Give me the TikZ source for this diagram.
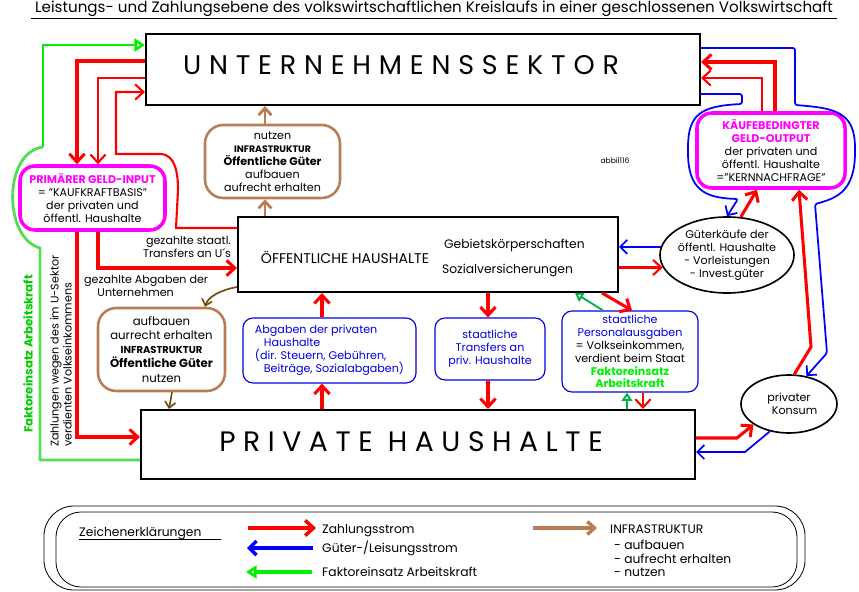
\documentclass[tikz,border=0pt]{standalone}
\usepackage{fontspec}
\setmainfont{Poppins}
\usetikzlibrary{arrows.meta,positioning,calc,shapes.geometric}
\definecolor{zahlrot}{RGB}{255,0,0}
\definecolor{gutblau}{RGB}{0,0,255}
\definecolor{boxblau}{RGB}{0,0,225}
\definecolor{faktgruen}{RGB}{0,240,0}
\definecolor{hellgruen}{RGB}{85,220,85}
\definecolor{dunkelgruen}{RGB}{0,175,80}
\definecolor{geldpink}{RGB}{255,0,255}
\definecolor{infbraun}{RGB}{185,125,85}
\definecolor{dunkelbraun}{RGB}{110,75,15}

\begin{document}
\begin{tikzpicture}[
  x=0.03cm,y=-0.03cm,
  font=\fontsize{9.5}{11}\selectfont,
  sektor/.style={draw=black,line width=1.7pt,inner sep=0pt},
  infbox/.style={draw=infbraun,line width=2.2pt,rounded corners=0.55cm,align=center,inner sep=0pt},
  geldbox/.style={draw=geldpink,line width=3pt,rounded corners=0.45cm,align=center,inner sep=0pt},
  stromb/.style={draw=boxblau,line width=1pt,rounded corners=0.3cm,align=center,inner sep=0pt},
  oval/.style={draw=black,line width=1.4pt,ellipse,inner sep=0pt},
  zst/.style={draw=zahlrot,line width=2.6pt,-{Straight Barb[length=7pt,width=13pt]}},
  zdn/.style={draw=zahlrot,line width=1.8pt,-{Straight Barb[length=7pt,width=13pt]}},
  gst/.style={draw=gutblau,line width=1.5pt,-{Straight Barb[length=6pt,width=12pt]}},
  fkt/.style={draw=faktgruen,line width=2.2pt,-{Triangle[open,length=9pt,width=11pt]}},
  fktd/.style={draw=dunkelgruen,line width=1.6pt,-{Triangle[open,length=7pt,width=9pt]}},
  inf/.style={draw=infbraun,line width=2.4pt,-{Straight Barb[length=6pt,width=11pt]}},
  infd/.style={draw=dunkelbraun,line width=1.4pt,-{Straight Barb[length=5pt,width=9pt]}},
  gross/.style={font=\fontsize{23}{26}\selectfont\addfontfeatures{LetterSpace=29}},
  legtxt/.style={anchor=base west,inner sep=0pt,font=\fontsize{10.5}{13}\selectfont}
]
\useasboundingbox (0,0) rectangle (859,592);

\node (titel) at (434,9) {\fontsize{12.9}{15}\selectfont Leistungs- und Zahlungsebene des volkswirtschaftlichen Kreislaufs in einer geschlossenen Volkswirtschaft};
\draw[line width=0.8pt] (31,18) -- (837,18);

\node[sektor,minimum width=16.62cm,minimum height=2.13cm] (usek) at (423,69.5) {};
\node[gross] (usektxt) at (401,65) {UNTERNEHMENSSEKTOR};

\node[sektor,minimum width=11.4cm,minimum height=2.25cm] (oeh) at (428,254.5) {};
\node[font=\fontsize{12}{14}\selectfont] (oehtxt) at (345,257) {ÖFFENTLICHE HAUSHALTE};
\node[anchor=west,font=\fontsize{10.5}{12}\selectfont] (gebk) at (440,245) {Gebietskörperschaften};
\node[anchor=west,font=\fontsize{10.5}{12}\selectfont] (sozv) at (438,270) {Sozialversicherungen};

\node[sektor,minimum width=16.62cm,minimum height=2.07cm] (phh) at (418,444.5) {};
\node[gross,font=\fontsize{24}{26}\selectfont\addfontfeatures{LetterSpace=27}] (phhtxt) at (411,442) {PRIVATE HAUSHALTE};

\node[infbox,minimum width=4.05cm,minimum height=2.19cm] (infoben) at (272.5,161.5) {nutzen\\{\fontsize{8}{11}\selectfont\bfseries INFRASTRUKTUR}\\\textbf{Öffentliche Güter}\\aufbauen\\aufrecht erhalten};
\node[infbox,minimum width=3.81cm,minimum height=2.49cm,font=\fontsize{10}{12}\selectfont] (infunten) at (161.5,349.5) {aufbauen\\aurrecht erhalten\\{\fontsize{8.5}{12}\selectfont\bfseries INFRASTRUKTUR}\\\textbf{Öffentliche Güter}\\nutzen};

\node[geldbox,minimum width=4.35cm,minimum height=1.92cm] (gin) at (92.5,198) {\textcolor{geldpink}{\textbf{PRIMÄRER GELD-INPUT}}\\= "KAUFKRAFTBASIS"\\der privaten und\\öffentl. Haushalte};
\node[geldbox,minimum width=4.44cm,minimum height=2.25cm] (gout) at (771,150.5) {\textcolor{geldpink}{\textbf{KÄUFEBEDINGTER}}\\\textcolor{geldpink}{\textbf{GELD-OUTPUT}}\\der privaten und\\öffentl. Haushalte\\="KERNNACHFRAGE"};

\node[stromb,minimum width=5.19cm,minimum height=1.95cm,align=left,text=boxblau] (abg) at (329.5,350.5) {Abgaben der privaten\\\hspace*{0.8em}Haushalte\\(dir. Steuern, Gebühren,\\\hspace*{0.8em}Beiträge, Sozialabgaben)};
\node[stromb,minimum width=3.3cm,minimum height=1.86cm,text=boxblau] (trans) at (490,349) {staatliche\\Transfers an\\priv. Haushalte};
\node[stromb,minimum width=4.08cm,minimum height=2.43cm] (pers) at (630,351.5) {\textcolor{boxblau}{staatliche}\\\textcolor{boxblau}{Personalausgaben}\\= Volkseinkommen,\\verdient beim Staat\\\textcolor{faktgruen}{\textbf{Faktoreinsatz}}\\\textcolor{faktgruen}{\textbf{Arbeitskraft}}};

\node[oval,minimum width=4.02cm,minimum height=2.28cm] (gkauf) at (727,255) {};
\node[align=center] (gkauftxt) at (gkauf) {Güterkäufe der\\öffentl. Haushalte\\- Vorleistungen\\- Invest.güter};
\node[oval,minimum width=2.88cm,minimum height=1.74cm] (kons) at (789,404) {};
\node[align=center] (konstxt) at (kons) {privater\\\hspace*{1em}Konsum};

\node[font=\fontsize{6.5}{8}\selectfont] (abbil) at (615,161) {abbil116};

\node[align=right,anchor=east] (transu) at (235,247) {gezahlte staatl.\\Transfers an U´s};
\node[align=left,anchor=north west] (abgu) at (80,271) {gezahlte Abgaben der\\\hspace*{1.2em}Unternehmen};
\node[rotate=90,anchor=west,font=\fontsize{10}{12}\selectfont\bfseries,text=faktgruen!85!black] (fklinks) at (28,437) {Faktoreinsatz Arbeitskraft};
\node[rotate=90,anchor=west,align=left] (zvolk) at (61,451) {Zahlungen wegen des im U-Sektor\\verdienten Volkseinkommens};

\coordinate (gknick) at (43,147);
\draw[hellgruen,line width=2.4pt,line join=round] (phh.west |- 0,460) -- (40,460) -- (40,248) .. controls (3,238) and (3,152) .. (gknick);
\draw[fkt] (gknick) -- (43,45) -- (usek.west |- 0,45);

\draw[zst] (usek.west |- 0,61) -| (gin.north -| 77,0);
\draw[zdn] (usek.west |- 0,78) -| (gin.north -| 98,0);
\draw[zdn] (oeh.west |- 0,228) -- (176,228) -- (178,190) to[out=90,in=0] (160,154) -- (116,154) |- (usek.west |- 0,92);
\draw[zst] (gin.south -| 77,0) |- (phh.west |- 0,437);
\draw[zst] (gin.south -| 98,0) |- (oeh.west |- 0,268);

\draw[inf] (infoben.north -| 265,0) -- (usek.south -| 265,0);
\draw[inf] (oeh.north -| 265,0) -- (infoben.south -| 265,0);
\draw[infd] (oeh.west |- 0,287) .. controls (220,290) and (208,297) .. (infunten.north -| 205,0);
\draw[infd] (infunten.south -| 172,0) -- (phh.north -| 169,0);

\draw[zst] (phh.north -| 322,0) -- (abg.south -| 322,0);
\draw[zst] (abg.north -| 322,0) -- (oeh.south -| 322,0);
\draw[zst] (oeh.south -| 488,0) -- (trans.north -| 488,0);
\draw[zst] (trans.south -| 488,0) -- (phh.north -| 488,0);

\draw[zst] (oeh.south -| 602,0) -- (pers.north -| 632,0);
\draw[fktd] (pers.north -| 603,0) -- (oeh.south -| 575,0);
\draw[fktd] (phh.north -| 627,0) -- (pers.south -| 627,0);
\draw[zdn] (pers.south -| 643,0) -- (phh.north -| 643,0);

\draw[gst] (gkauf.173) -- (oeh.east |- gkauf.173);
\draw[zdn] (oeh.east |- gkauf.191) -- (gkauf.191);

\draw[zst] (gout.north -| 775,0) |- (usek.east |- 0,62);
\draw[zdn] (gout.north -| 762,0) |- (usek.east |- 0,78);
\draw[gst,rounded corners=2pt] (usek.east |- 0,48) -- (795,48) -- (795,105) .. controls (835,108) and (855,112) .. (855,150) .. controls (855,190) and (838,198) .. (815,204) -- (827,353) -- (kons.58);
\draw[gst,rounded corners=2pt] (usek.east |- 0,94) -- (742,94) -- (742,104) .. controls (700,106) and (688,115) .. (688,150) .. controls (688,190) and (705,198) .. (738,199) -- (gkauf.north);
\draw[zst] (gkauf.70) -- (gout.south -| 757,0);
\draw[zst] (kons.80) -- (811,347) -- (gout.south -| 799,0);

\draw[zst] (phh.east |- 0,438) -- (737,438) -- (kons.210);
\draw[gst] (kons.235) -- (745,452) -- (phh.east |- 0,452);

\node[draw,line width=0.7pt,rounded corners=0.9cm,minimum width=22.83cm,minimum height=2.52cm] (legaussen) at (424.5,548) {};
\node[draw,line width=0.7pt,rounded corners=0.75cm,minimum width=22.23cm,minimum height=2.25cm] (leginnen) at (426.5,549.5) {};
\node[legtxt] (zeich) at (79,536) {Zeichenerklärungen};
\draw[line width=0.7pt] ([yshift=-3pt]zeich.base west) -- ++(142,0);
\coordinate (lzr1) at (248,528);
\coordinate (lzr2) at (316,528);
\coordinate (lgb1) at (313,548);
\coordinate (lgb2) at (247,548);
\coordinate (lfg1) at (312,572);
\coordinate (lfg2) at (246,572);
\coordinate (lib1) at (533,528);
\coordinate (lib2) at (597,528);
\draw[zst,line width=3pt] (lzr1) -- (lzr2);
\draw[gst,line width=3pt] (lgb1) -- (lgb2);
\draw[fkt,line width=3pt] (lfg1) -- (lfg2);
\draw[inf,line width=3pt] (lib1) -- (lib2);
\node[legtxt] (lzt) at (322,533) {Zahlungsstrom};
\node[legtxt] (lgt) at (322,552) {Güter-/Leisungsstrom};
\node[legtxt] (lft) at (322,576) {Faktoreinsatz Arbeitskraft};
\node[legtxt] (lit) at (610,533) {INFRASTRUKTUR};
\node[legtxt,anchor=north west,align=left,font=\fontsize{10.5}{11.5}\selectfont] (litl) at (614,540) {- aufbauen\\- aufrecht erhalten\\- nutzen};
\end{tikzpicture}
\end{document}
